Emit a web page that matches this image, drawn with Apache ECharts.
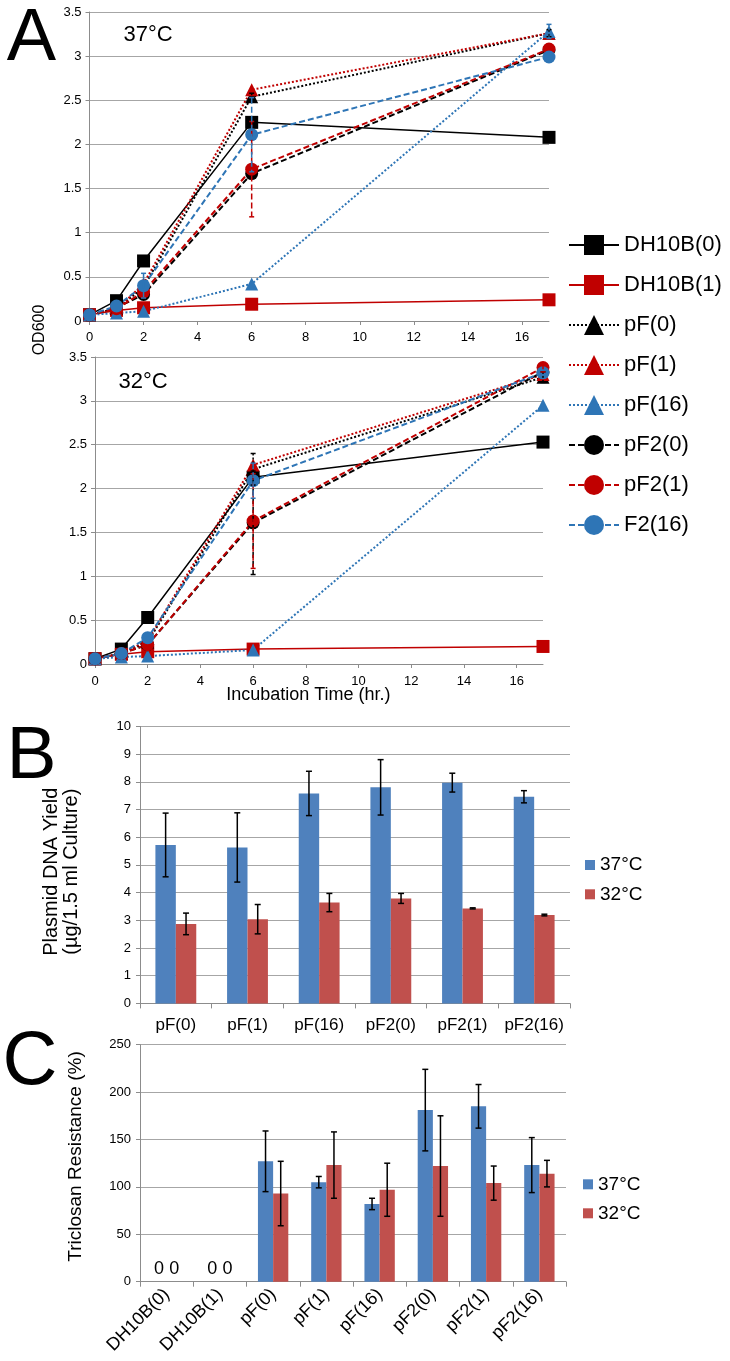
<!DOCTYPE html>
<html><head><meta charset="utf-8">
<script src="https://cdn.jsdelivr.net/npm/echarts@6/dist/echarts.min.js"></script>
<style>html,body{margin:0;padding:0;background:#fff}#c{width:730px;height:1361px}</style>
</head><body><div id="c"></div>
<script>
// ---------- DATA ----------
const timePoints = [0, 1, 2, 6, 17];
const xTickValues = [0, 2, 4, 6, 8, 10, 12, 14, 16];
const strains = ['DH10B(0)', 'DH10B(1)', 'pF(0)', 'pF(1)', 'pF(16)', 'pF2(0)', 'pF2(1)', 'F2(16)'];

// OD600 at 37°C
const od37_DH10B0 = [0.07, 0.23, 0.68, 2.25, 2.08];
const od37_DH10B1 = [0.07, 0.12, 0.15, 0.19, 0.24];
const od37_pF0    = [0.07, 0.14, 0.38, 2.54, 3.26];
const od37_pF1    = [0.07, 0.13, 0.42, 2.62, 3.26];
const od37_pF16   = [0.07, 0.09, 0.11, 0.42, 3.28];
const od37_pF20   = [0.07, 0.15, 0.30, 1.67, 3.07];
const od37_pF21   = [0.07, 0.14, 0.33, 1.72, 3.08];
const od37_F216   = [0.07, 0.17, 0.40, 2.11, 2.99];
// error bars at 37°C (same order as timePoints)
const err37_pF0   = [0, 0, 0, 0.04, 0.04];
const err37_pF16  = [0, 0, 0, 0, 0.08];
const err37_pF21  = [0, 0, 0, 0.54, 0];
const err37_F216  = [0, 0, 0.14, 0.42, 0];

// OD600 at 32°C
const od32_DH10B0 = [0.06, 0.17, 0.53, 2.13, 2.53];
const od32_DH10B1 = [0.06, 0.11, 0.14, 0.17, 0.20];
const od32_pF0    = [0.06, 0.12, 0.25, 2.22, 3.27];
const od32_pF1    = [0.06, 0.12, 0.27, 2.27, 3.30];
const od32_pF16   = [0.06, 0.08, 0.09, 0.16, 2.95];
const od32_pF20   = [0.06, 0.12, 0.22, 1.61, 3.33];
const od32_pF21   = [0.06, 0.12, 0.22, 1.63, 3.38];
const od32_F216   = [0.06, 0.12, 0.30, 2.09, 3.32];
const err32_pF0   = [0, 0, 0, 0.18, 0.06];
const err32_pF20  = [0, 0, 0, 0.59, 0];
const err32_pF21  = [0, 0, 0, 0.54, 0.05];
const err32_F216  = [0, 0, 0, 0.20, 0];

// Panel B : plasmid DNA yield
const yieldCats = ['pF(0)', 'pF(1)', 'pF(16)', 'pF2(0)', 'pF2(1)', 'pF2(16)'];
const yield37 = [5.72, 5.63, 7.58, 7.80, 7.97, 7.46];
const yield37Err = [1.15, 1.25, 0.80, 1.00, 0.34, 0.22];
const yield32 = [2.87, 3.04, 3.64, 3.79, 3.43, 3.19];
const yield32Err = [0.39, 0.53, 0.33, 0.18, 0.02, 0.03];

// Panel C : triclosan resistance
const triCats = ['DH10B(0)', 'DH10B(1)', 'pF(0)', 'pF(1)', 'pF(16)', 'pF2(0)', 'pF2(1)', 'pF2(16)'];
const tri37 = [0, 0, 127, 105, 82, 181, 185, 123];
const tri37Err = [0, 0, 32, 6, 6, 43, 23, 29];
const tri32 = [0, 0, 93, 123, 97, 122, 104, 114];
const tri32Err = [0, 0, 34, 35, 28, 53, 18, 14];

// ---------- STYLES ----------
const FONT = '"Liberation Sans", Arial, Helvetica, sans-serif';
const BLACK = '#000000', RED = '#c00000', BLUE = '#2e75b6';
const BAR_BLUE = '#4f81bd', BAR_RED = '#c0504d';
const GRID_COLOR = '#a6a6a6', AXIS_COLOR = '#8c8c8c';
const DOT = [2, 2], DASH = [6, 3];
const strainStyles = [
  { color: BLACK, symbol: 'rect', dash: 'solid', w: 1.5 },
  { color: RED, symbol: 'rect', dash: 'solid', w: 1.5 },
  { color: BLACK, symbol: 'triangle', dash: DOT, w: 2 },
  { color: RED, symbol: 'triangle', dash: DOT, w: 2 },
  { color: BLUE, symbol: 'triangle', dash: DOT, w: 2 },
  { color: BLACK, symbol: 'circle', dash: DASH, w: 2 },
  { color: RED, symbol: 'circle', dash: DASH, w: 2 },
  { color: BLUE, symbol: 'circle', dash: DASH, w: 2 }
];

const od37 = [od37_DH10B0, od37_DH10B1, od37_pF0, od37_pF1, od37_pF16, od37_pF20, od37_pF21, od37_F216];
const od32 = [od32_DH10B0, od32_DH10B1, od32_pF0, od32_pF1, od32_pF16, od32_pF20, od32_pF21, od32_F216];
const err37 = { 2: err37_pF0, 4: err37_pF16, 6: err37_pF21, 7: err37_F216 };
const err32 = { 2: err32_pF0, 5: err32_pF20, 6: err32_pF21, 7: err32_F216 };

function lineSeries(k, vals, gi) {
  const s = strainStyles[k];
  return {
    type: 'line', name: strains[k], xAxisIndex: gi, yAxisIndex: gi,
    data: timePoints.map((t, i) => [t, vals[i]]),
    symbol: s.symbol, symbolSize: 13, showSymbol: true,
    itemStyle: { color: s.color },
    lineStyle: { color: s.color, width: s.w, type: s.dash },
    emphasis: { disabled: true }, z: 3
  };
}

function lineErrSeries(gi, vals, errs) {
  const items = [];
  Object.keys(errs).forEach(key => {
    const k = +key;
    errs[k].forEach((e, i) => { if (e > 0) items.push([timePoints[i], vals[k][i], e, k]); });
  });
  return {
    type: 'custom', xAxisIndex: gi, yAxisIndex: gi, z: 4, silent: true,
    data: items,
    renderItem: function (params, api) {
      const x = api.value(0), y = api.value(1), e = api.value(2), k = api.value(3);
      const st = strainStyles[k];
      const t = api.coord([x, y + e]), b = api.coord([x, y - e]);
      const cap = 2.5;
      const style = { stroke: st.color, lineWidth: 1.5, lineDash: Array.isArray(st.dash) ? st.dash : null };
      const capStyle = { stroke: st.color, lineWidth: 1.5 };
      return { type: 'group', children: [
        { type: 'line', shape: { x1: t[0], y1: t[1], x2: b[0], y2: b[1] }, style: style },
        { type: 'line', shape: { x1: t[0] - cap, y1: t[1], x2: t[0] + cap, y2: t[1] }, style: capStyle },
        { type: 'line', shape: { x1: b[0] - cap, y1: b[1], x2: b[0] + cap, y2: b[1] }, style: capStyle }
      ]};
    }
  };
}

function barErrSeries(gi, vals37, e37, vals32, e32) {
  const items = [];
  vals37.forEach((v, i) => { if (e37[i] > 0) items.push([i, v, e37[i], 0]); });
  vals32.forEach((v, i) => { if (e32[i] > 0) items.push([i, v, e32[i], 1]); });
  return {
    type: 'custom', xAxisIndex: gi, yAxisIndex: gi, z: 5, silent: true,
    data: items,
    renderItem: function (params, api) {
      const c = api.value(0), v = api.value(1), e = api.value(2), k = api.value(3);
      const band = api.size([1, 0])[0];
      const bw = band * 0.57 / 2;
      const off = k === 0 ? -bw / 2 : bw / 2;
      const t = api.coord([c, v + e]), b = api.coord([c, v - e]);
      const x = t[0] + off, cap = 3;
      const st = { stroke: '#000', lineWidth: 1.5 };
      return { type: 'group', children: [
        { type: 'line', shape: { x1: x, y1: t[1], x2: x, y2: b[1] }, style: st },
        { type: 'line', shape: { x1: x - cap, y1: t[1], x2: x + cap, y2: t[1] }, style: st },
        { type: 'line', shape: { x1: x - cap, y1: b[1], x2: x + cap, y2: b[1] }, style: st }
      ]};
    }
  };
}

const axisLabelBase = { color: '#000', fontFamily: FONT, fontSize: 13 };

function lineXAxis(gi, margin) {
  return {
    type: 'value', gridIndex: gi, min: 0, max: 17, interval: 2,
    axisLine: { show: true, onZero: false, lineStyle: { color: AXIS_COLOR, width: 1 } },
    axisTick: { show: true, length: 4, customValues: xTickValues, lineStyle: { color: AXIS_COLOR } },
    axisLabel: Object.assign({ customValues: xTickValues, margin: margin }, axisLabelBase),
    splitLine: { show: false }
  };
}
function lineYAxis(gi) {
  return {
    type: 'value', gridIndex: gi, min: 0, max: 3.5, interval: 0.5,
    axisLine: { show: true, lineStyle: { color: AXIS_COLOR, width: 1 } },
    axisTick: { show: true, length: 4, lineStyle: { color: AXIS_COLOR } },
    axisLabel: Object.assign({ margin: 8 }, axisLabelBase),
    splitLine: { show: true, lineStyle: { color: GRID_COLOR, width: 1.2 } }
  };
}
function barXAxis(gi, cats, extra) {
  return Object.assign({
    type: 'category', gridIndex: gi, data: cats,
    axisLine: { show: true, lineStyle: { color: AXIS_COLOR, width: 1 } },
    axisTick: { show: true, length: 5, alignWithLabel: false, lineStyle: { color: AXIS_COLOR } },
    splitLine: { show: false }
  }, extra);
}
function barYAxis(gi, max, interval) {
  return {
    type: 'value', gridIndex: gi, min: 0, max: max, interval: interval,
    axisLine: { show: true, lineStyle: { color: AXIS_COLOR, width: 1 } },
    axisTick: { show: true, length: 4, lineStyle: { color: AXIS_COLOR } },
    axisLabel: Object.assign({ margin: 9 }, axisLabelBase),
    splitLine: { show: true, lineStyle: { color: GRID_COLOR, width: 1.2 } }
  };
}

const series = [];
for (let k = 0; k < 8; k++) series.push(lineSeries(k, od37[k], 0));
series.push(lineErrSeries(0, od37, err37));
for (let k = 0; k < 8; k++) series.push(lineSeries(k, od32[k], 1));
series.push(lineErrSeries(1, od32, err32));

const zeroLabel = {
  show: true, position: 'top', distance: 4, color: '#000', fontFamily: FONT, fontSize: 18,
  formatter: p => (p.value === 0 ? '0' : '')
};
series.push({ type: 'bar', name: '37°C', xAxisIndex: 2, yAxisIndex: 2, data: yield37,
  barGap: '0%', barCategoryGap: '43%', itemStyle: { color: BAR_BLUE }, emphasis: { disabled: true } });
series.push({ type: 'bar', name: '32°C', xAxisIndex: 2, yAxisIndex: 2, data: yield32,
  barGap: '0%', barCategoryGap: '43%', itemStyle: { color: BAR_RED }, emphasis: { disabled: true } });
series.push(barErrSeries(2, yield37, yield37Err, yield32, yield32Err));
series.push({ type: 'bar', name: '37°C', xAxisIndex: 3, yAxisIndex: 3, data: tri37,
  barGap: '0%', barCategoryGap: '43%', itemStyle: { color: BAR_BLUE }, label: zeroLabel, emphasis: { disabled: true } });
series.push({ type: 'bar', name: '32°C', xAxisIndex: 3, yAxisIndex: 3, data: tri32,
  barGap: '0%', barCategoryGap: '43%', itemStyle: { color: BAR_RED }, label: zeroLabel, emphasis: { disabled: true } });
series.push(barErrSeries(3, tri37, tri37Err, tri32, tri32Err));

function gText(text, x, y, size, rot, extra) {
  return {
    type: 'text', x: x, y: y, rotation: rot || 0, silent: true,
    style: Object.assign({ text: text, fontFamily: FONT, fontSize: size, fill: '#000',
      align: 'center', verticalAlign: 'middle' }, extra || {})
  };
}

const option = {
  animation: false,
  backgroundColor: '#fff',
  textStyle: { fontFamily: FONT },
  grid: [
    { left: 89.5, top: 12, width: 459.5, height: 309 },
    { left: 95, top: 357, width: 448, height: 307 },
    { left: 140, top: 726.4, width: 430, height: 277 },
    { left: 140, top: 1044.7, width: 426, height: 237 }
  ],
  xAxis: [
    lineXAxis(0, 10),
    lineXAxis(1, 11),
    barXAxis(2, yieldCats, { axisLabel: Object.assign({}, axisLabelBase, { fontSize: 17, margin: 13, interval: 0 }) }),
    barXAxis(3, triCats, { axisLabel: Object.assign({}, axisLabelBase, { fontSize: 18, margin: 10, interval: 0, rotate: 45 }) })
  ],
  yAxis: [lineYAxis(0), lineYAxis(1), barYAxis(2, 10, 1), barYAxis(3, 250, 50)],
  legend: [
    { data: strains, orient: 'vertical', left: 563, top: 227.5, itemWidth: 50, itemHeight: 25, itemGap: 15,
      selectedMode: false, textStyle: { fontSize: 22, fontFamily: FONT, color: '#000', lineHeight: 25 } },
    { data: ['37°C', '32°C'], orient: 'vertical', left: 580, top: 850, itemWidth: 10, itemHeight: 10, itemGap: 9.3,
      icon: 'rect', selectedMode: false, textStyle: { fontSize: 19, fontFamily: FONT, color: '#000', lineHeight: 20 } },
    { data: ['37°C', '32°C'], orient: 'vertical', left: 578, top: 1169.3, itemWidth: 10, itemHeight: 10, itemGap: 9,
      icon: 'rect', selectedMode: false, textStyle: { fontSize: 19, fontFamily: FONT, color: '#000', lineHeight: 20 } }
  ],
  graphic: [
    gText('A', 31.5, 40, 74),
    gText('B', 31.5, 757, 75),
    gText('C', 30, 1063, 76),
    gText('37°C', 148, 35, 22),
    gText('32°C', 143, 382, 22),
    gText('OD600', 40, 330, 16, Math.PI / 2),
    gText('Incubation Time (hr.)', 308.4, 695, 18),
    gText('Plasmid DNA Yield\n(µg/1.5 ml Culture)', 61, 871.7, 20, Math.PI / 2, { lineHeight: 20 }),
    gText('Triclosan Resistance (%)', 76, 1156.5, 19, Math.PI / 2)
  ],
  series: series
};

const chart = echarts.init(document.getElementById('c'), null, { renderer: 'canvas' });
chart.setOption(option);
</script>
</body></html>
